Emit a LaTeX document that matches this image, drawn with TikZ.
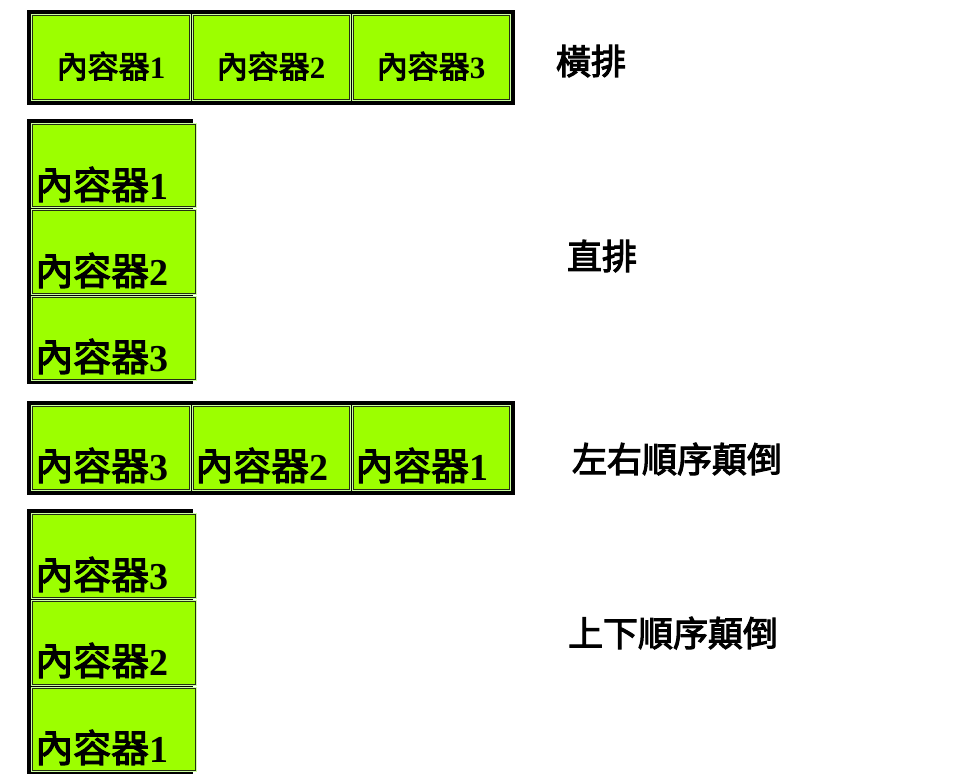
\documentclass[tikz,border=0pt]{standalone}
\usepackage{fontspec}
\usetikzlibrary{fit}
\newfontfamily\cjkm{Noto Sans CJK TC}[FakeBold=3]
\newfontfamily\tnr{Liberation Serif}
\definecolor{boxgreen}{RGB}{156,255,0}
\definecolor{lightedge}{RGB}{205,255,160}
\definecolor{darkedge}{RGB}{35,45,20}
\tikzset{
  frame/.style={fill=black, draw=none, inner sep=0pt},
  cbox/.style={fill=boxgreen, draw=lightedge, line width=1pt, inner sep=0pt},
  inline/.style={draw=darkedge, line width=1pt},
  btxt/.style={inner sep=0pt, anchor=base west, text=black, font=\cjkm\fontsize{38}{38}\selectfont},
  rtxt/.style={inner sep=0pt, anchor=base, text=black, font=\cjkm\fontsize{31}{31}\selectfont},
  lbl/.style={inner sep=0pt, text=black, font=\cjkm\fontsize{35}{35}\selectfont}
}
\newcommand\ct[1]{內容器{\tnr\bfseries #1}}
\newcommand\cbx[5]{%
  \node[cbox, fit={(#2,#3) (#4,#5)}] (#1) {};
  \draw[inline] ([shift={(1.5,1.5)}]#1.north west) rectangle ([shift={(-1.5,-1.5)}]#1.south east);}
\begin{document}
\begin{tikzpicture}[x=1pt, y=-1pt]
\useasboundingbox[fill=white] (0,0) rectangle (975,774);

% Row 1: horizontal
\node[frame, fit={(27,10) (515,105)}] (f1) {};
\cbx{a1}{31}{14}{190}{100}
\cbx{a2}{192}{14}{350}{100}
\cbx{a3}{352}{14}{510}{100}
\node[rtxt] (ta1) at (111,78) {\ct{1}};
\node[rtxt] (ta2) at (271,78) {\ct{2}};
\node[rtxt] (ta3) at (431,78) {\ct{3}};
\node[lbl] (l1) at (591,61) {橫排};

% Column 2: vertical
\node[frame, fit={(27,119) (193,384)}] (f2) {};
\cbx{b1}{31}{123}{196}{207}
\cbx{b2}{31}{209}{196}{294}
\cbx{b3}{31}{296}{196}{380}
\node[btxt] (tb1) at (35,199) {\ct{1}};
\node[btxt] (tb2) at (35,285) {\ct{2}};
\node[btxt] (tb3) at (35,371) {\ct{3}};
\node[lbl] (l2) at (602,256) {直排};

% Row 3: reversed horizontal
\node[frame, fit={(27,401) (515,495)}] (f3) {};
\cbx{c1}{31}{405}{190}{490}
\cbx{c2}{192}{405}{350}{490}
\cbx{c3}{352}{405}{510}{490}
\node[btxt] (tc1) at (35,480) {\ct{3}};
\node[btxt] (tc2) at (195,480) {\ct{2}};
\node[btxt] (tc3) at (355,480) {\ct{1}};
\node[lbl] (l3) at (677,459) {左右順序顛倒};

% Column 4: reversed vertical
\node[frame, fit={(27,509) (193,774)}] (f4) {};
\cbx{d1}{31}{513}{196}{598}
\cbx{d2}{31}{600}{196}{685}
\cbx{d3}{31}{687}{196}{771}
\node[btxt] (td1) at (35,589) {\ct{3}};
\node[btxt] (td2) at (35,675) {\ct{2}};
\node[btxt] (td3) at (35,762) {\ct{1}};
\node[lbl] (l4) at (673,633) {上下順序顛倒};
\end{tikzpicture}
\end{document}
